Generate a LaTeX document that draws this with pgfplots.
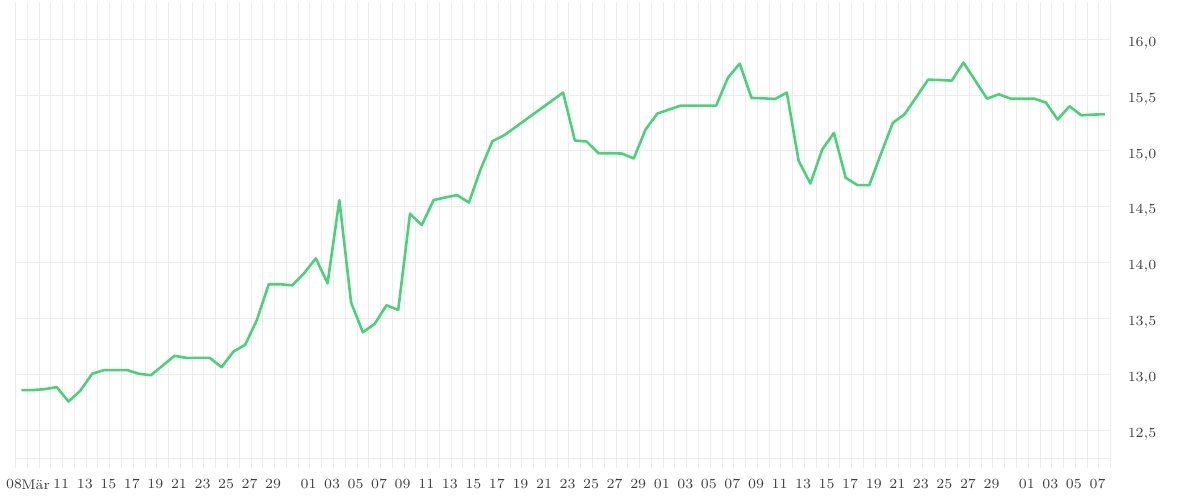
\documentclass[border=0pt]{standalone}
\usepackage{fontspec}
\usepackage{pgfplots}
\usepackage{pgfplotstable}
\pgfplotsset{compat=1.18}
\definecolor{linegreen}{RGB}{76,209,123}
\definecolor{gridgray}{RGB}{236,236,236}
\definecolor{labelgray}{RGB}{60,60,60}
\pgfplotstableread{
x y
7.5 12.858
8.5 12.858
9.5 12.867
10.5 12.885
11.5 12.756
12.5 12.852
13.5 13.004
14.5 13.037
15.5 13.037
16.5 13.037
17.5 13.004
18.5 12.992
19.5 13.078
20.5 13.165
21.5 13.147
22.5 13.147
23.5 13.147
24.5 13.063
25.5 13.203
26.5 13.263
27.5 13.487
28.5 13.806
29.5 13.806
30.5 13.797
31.5 13.904
32.5 14.038
33.5 13.815
34.5 14.560
35.5 13.641
36.5 13.376
37.5 13.451
38.5 13.618
39.5 13.576
40.5 14.438
41.5 14.336
42.5 14.560
43.5 14.584
44.5 14.605
45.5 14.538
46.5 14.837
47.5 15.088
48.5 15.141
53.5 15.523
54.5 15.094
55.5 15.085
56.5 14.980
57.5 14.980
58.5 14.977
59.5 14.933
60.5 15.192
61.5 15.335
62.5 15.371
63.5 15.407
64.5 15.407
65.5 15.407
66.5 15.407
67.5 15.657
68.5 15.783
69.5 15.475
70.5 15.472
71.5 15.466
72.5 15.523
73.5 14.912
74.5 14.709
75.5 15.013
76.5 15.162
77.5 14.760
78.5 14.694
79.5 14.694
80.5 14.977
81.5 15.252
82.5 15.329
83.5 15.484
84.5 15.639
85.5 15.636
86.5 15.630
87.5 15.792
88.5 15.630
89.5 15.469
90.5 15.508
91.5 15.469
92.5 15.469
93.5 15.469
94.5 15.434
95.5 15.282
96.5 15.401
97.5 15.320
98.5 15.326
99.5 15.329
}\pricedata
\begin{document}
\begin{tikzpicture}
\useasboundingbox (-7.75pt,-21pt) rectangle (592.25pt,229pt);
\begin{axis}[
  scale only axis,
  width=547.6pt, height=223pt,
  xmin=7, xmax=100, ymin=12.25, ymax=16.245,
  axis line style={draw=none},
  xtick={7,9,11,13,15,17,19,21,23,25,27,29,32,34,36,38,40,42,44,46,48,50,52,54,56,58,60,62,64,66,68,70,72,74,76,78,80,82,84,86,88,90,93,95,97,99},
  xticklabels={08,\kern-1pt Mär\kern1pt,11,13,15,17,19,21,23,25,27,29,01,03,05,07,09,11,13,15,17,19,21,23,25,27,29,01,03,05,07,09,11,13,15,17,19,21,23,25,27,29,01,03,05,07},
  minor xtick={7,...,100},
  ytick={12.5,13,13.5,14,14.5,15,15.5,16},
  extra y ticks={12.25},
  extra y tick labels={},
  extra y tick style={grid=major},
  yticklabel pos=right,
  /pgf/number format/use comma,
  /pgf/number format/fixed,
  /pgf/number format/fixed zerofill,
  /pgf/number format/precision=1,
  grid=both,
  grid style={gridgray, line width=0.5pt},
  major grid style={gridgray, line width=0.5pt},
  minor grid style={gridgray, line width=0.5pt},
  tick align=outside,
  major tick length=5pt,
  minor tick length=5pt,
  every tick/.style={gridgray, line width=0.5pt},
  ytick style={draw=none},
  ticklabel style={font=\fontsize{7}{8}\selectfont, text=labelgray},
  xticklabel style={yshift=-2.2pt, xshift=-0.7pt},
  yticklabel style={anchor=west, yshift=-2pt},
]
\addplot[linegreen, line width=1.3pt, line join=round, mark=none] table[x=x, y=y] {\pricedata};
\end{axis}
\end{tikzpicture}
\end{document}
